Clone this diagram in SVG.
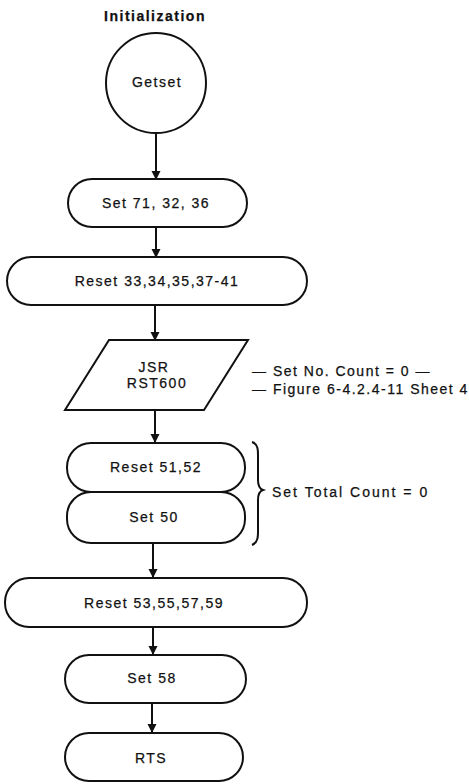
<svg xmlns="http://www.w3.org/2000/svg" width="469" height="784" viewBox="0 0 469 784">
<defs>
<style>
.n{fill:#fff;stroke:#111;stroke-width:2}
.t{font-family:"Liberation Sans",Arial,sans-serif;font-size:14px;letter-spacing:1.5px;fill:#111;stroke:#111;stroke-width:0.25;text-anchor:middle}
.l{font-family:"Liberation Sans",Arial,sans-serif;font-size:14px;letter-spacing:1.5px;fill:#111;stroke:#111;stroke-width:0.25}
.c{stroke:#111;stroke-width:2;fill:none}
</style>
<marker id="ah" markerWidth="10" markerHeight="16" refX="8" refY="4.5" orient="auto" markerUnits="userSpaceOnUse" viewBox="0 0 10 9">
<path d="M0,0 L9,4.5 L0,9 Z" fill="#111"/>
</marker>
</defs>
<rect width="469" height="784" fill="#fff"/>
<text x="155" y="21" class="t" style="font-weight:bold;letter-spacing:1.5px">Initialization</text>
<g id="connectors">
<line class="c" x1="156" y1="134" x2="156" y2="179" marker-end="url(#ah)"/>
<line class="c" x1="156" y1="227" x2="156" y2="257" marker-end="url(#ah)"/>
<line class="c" x1="155" y1="305" x2="155" y2="340" marker-end="url(#ah)"/>
<line class="c" x1="155" y1="410" x2="155" y2="442" marker-end="url(#ah)"/>
<line class="c" x1="153" y1="543" x2="153" y2="577" marker-end="url(#ah)"/>
<line class="c" x1="153" y1="627" x2="153" y2="654" marker-end="url(#ah)"/>
<line class="c" x1="152" y1="703" x2="152" y2="732" marker-end="url(#ah)"/>
</g>
<g id="getset">
<circle class="n" cx="156" cy="83" r="50"/>
<text x="157" y="87" class="t">Getset</text>
</g>
<g id="set71">
<rect class="n" x="68" y="179" width="179" height="48" rx="24"/>
<text x="156" y="208" class="t">Set 71, 32, 36</text>
</g>
<g id="reset33">
<rect class="n" x="7" y="257" width="300" height="48" rx="24"/>
<text x="157" y="286" class="t">Reset 33,34,35,37-41</text>
</g>
<g id="jsr">
<polygon class="n" points="109,340 248,340 204,410 65,410"/>
<text x="154" y="372" class="t">JSR</text>
<text x="157" y="388" class="t">RST600</text>
</g>
<g id="jsr-note">
<text x="252" y="376" class="l">— Set No. Count = 0 —</text>
<text x="252" y="394" class="l">— Figure 6-4.2.4-11 Sheet 4</text>
</g>
<g id="reset51">
<rect class="n" x="67" y="443" width="178" height="49" rx="24"/>
<text x="156" y="472" class="t">Reset 51,52</text>
</g>
<g id="set50">
<rect class="n" x="67" y="492" width="178" height="51" rx="24"/>
<text x="154" y="522" class="t">Set 50</text>
</g>
<g id="total-count">
<path class="c" d="M252,442 C259,444 258,452 258,460 L258,480 C258,486 260,489 263,490 C260,491 258,494 258,500 L258,525 C258,535 259,542 252,545"/>
<text x="272" y="497" class="l" style="letter-spacing:2px">Set Total Count = 0</text>
</g>
<g id="reset53">
<rect class="n" x="5" y="578" width="302" height="49" rx="24"/>
<text x="154" y="608" class="t">Reset 53,55,57,59</text>
</g>
<g id="set58">
<rect class="n" x="65" y="655" width="181" height="48" rx="24"/>
<text x="152" y="683" class="t">Set 58</text>
</g>
<g id="rts">
<rect class="n" x="65" y="733" width="178" height="48" rx="24"/>
<text x="151" y="763" class="t">RTS</text>
</g>
</svg>
